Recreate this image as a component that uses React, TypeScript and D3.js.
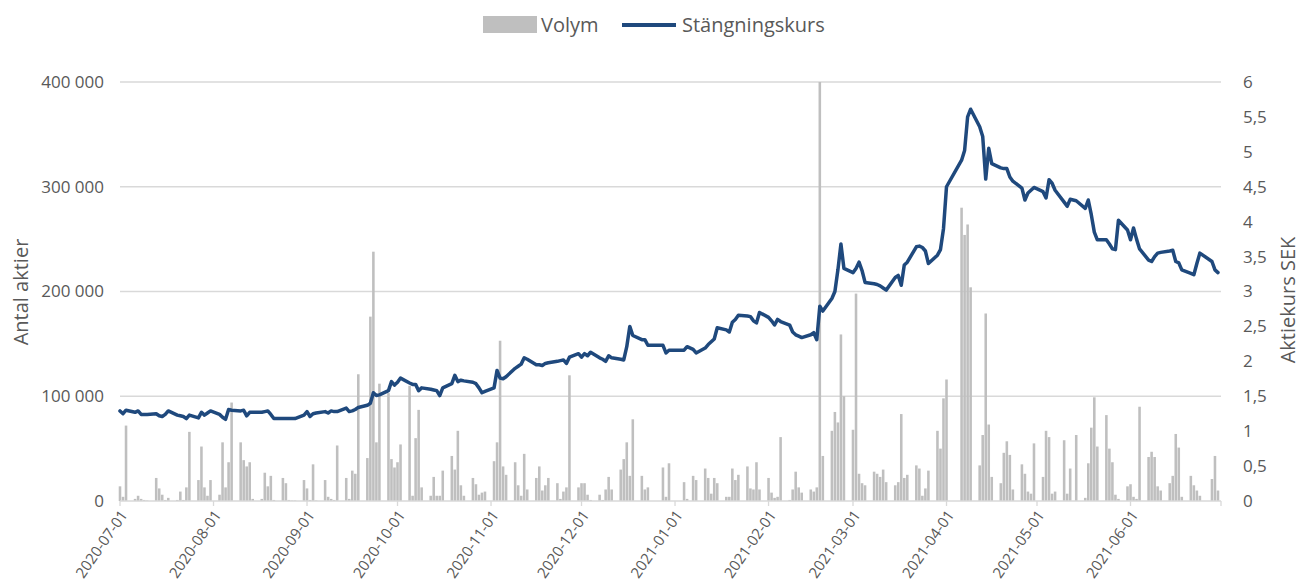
import React, { useEffect, useRef } from "react";
import * as d3 from "d3";

// months shown, one array of trading-day values per month
const months = ["2020-07", "2020-08", "2020-09", "2020-10", "2020-11", "2020-12", "2021-01", "2021-02", "2021-03", "2021-04", "2021-05", "2021-06"];
// exchange closed these weekdays
const holidays = ["2020-12-24", "2020-12-25", "2020-12-31", "2021-01-01", "2021-01-06", "2021-04-02", "2021-04-05", "2021-05-13", "2021-06-25"];

// Volym (antal aktier)
const vol2020_07 = [14000, 4000, 72000, 2000, 5000, 2000, 1000, 500, 22000, 12000, 6000, 1000, 3000, 1000, 9000, 1000, 13000, 66000, 20000, 52000, 13000, 5000, 20000];
const vol2020_08 = [6000, 56000, 13000, 37000, 94000, 56000, 39000, 33000, 37000, 2000, 2000, 27000, 14000, 24000, 1000, 22000, 17000, 1000, 500, 500, 20000];
const vol2020_09 = [12000, 1000, 35000, 500, 20000, 4000, 2000, 1000, 53000, 22000, 2000, 29000, 26000, 121000, 41000, 176000, 238000, 56000, 112000, 103000, 40000, 32000];
const vol2020_10 = [37000, 54000, 110000, 5000, 60000, 87000, 13000, 5000, 23000, 5000, 5000, 29000, 43000, 30000, 67000, 15000, 5000, 22000, 16000, 6000, 8000, 9000];
const vol2020_11 = [38000, 56000, 153000, 33000, 25000, 37000, 15000, 5000, 45000, 11000, 22000, 33000, 10000, 15000, 22000, 17000, 2000, 9000, 13000, 120000, 13000];
const vol2020_12 = [17000, 17000, 6000, 1000, 6000, 1000, 11000, 23000, 11000, 30000, 40000, 56000, 24000, 78000, 24000, 11000, 13000, 32000, 4000, 36000];
const vol2021_01 = [18000, 2000, 24000, 20000, 31000, 22000, 7000, 22000, 17000, 4000, 4000, 31000, 20000, 25000, 33000, 12000, 11000, 37000, 11000];
const vol2021_02 = [22000, 8000, 3000, 4000, 61000, 1000, 11000, 28000, 13000, 8000, 11000, 9000, 13000, 460000, 43000, 67000, 85000, 75000, 159000, 100000];
const vol2021_03 = [68000, 198000, 26000, 17000, 15000, 28000, 26000, 23000, 30000, 18000, 15000, 18000, 83000, 22000, 25000, 34000, 31000, 5000, 12000, 29000, 67000, 50000, 98000];
const vol2021_04 = [116000, 280000, 254000, 264000, 204000, 34000, 63000, 179000, 73000, 23000, 17000, 46000, 57000, 44000, 11000, 35000, 26000, 9000, 7000, 55000];
const vol2021_05 = [23000, 67000, 61000, 7000, 9000, 58000, 7000, 31000, 63000, 3000, 36000, 70000, 99000, 52000, 82000, 50000, 37000, 6000, 2000, 14000];
const vol2021_06 = [16000, 4000, 2000, 90000, 42000, 47000, 42000, 14000, 10000, 17000, 24000, 64000, 51000, 4000, 24000, 15000, 10000, 5000, 21000, 43000, 10000];

// Stängningskurs (SEK)
const price2020_07 = [1.29, 1.25, 1.30, 1.27, 1.29, 1.24, 1.24, 1.24, 1.25, 1.22, 1.21, 1.24, 1.29, 1.23, 1.22, 1.21, 1.18, 1.23, 1.19, 1.27, 1.23, 1.26, 1.29];
const price2020_08 = [1.24, 1.20, 1.17, 1.31, 1.30, 1.29, 1.30, 1.22, 1.27, 1.27, 1.27, 1.28, 1.29, 1.24, 1.18, 1.18, 1.18, 1.18, 1.18, 1.18, 1.23];
const price2020_09 = [1.28, 1.21, 1.25, 1.26, 1.28, 1.26, 1.29, 1.28, 1.28, 1.33, 1.28, 1.29, 1.31, 1.34, 1.37, 1.40, 1.55, 1.51, 1.52, 1.58, 1.71, 1.66];
const price2020_10 = [1.70, 1.76, 1.69, 1.67, 1.67, 1.58, 1.62, 1.60, 1.59, 1.58, 1.51, 1.62, 1.68, 1.80, 1.71, 1.73, 1.72, 1.70, 1.68, 1.62, 1.55, 1.57];
const price2020_11 = [1.62, 1.87, 1.76, 1.75, 1.78, 1.90, 1.93, 1.96, 2.05, 2.03, 1.95, 1.95, 1.94, 1.97, 1.98, 2.00, 2.01, 2.02, 1.97, 2.06, 2.11];
const price2020_12 = [2.06, 2.11, 2.08, 2.13, 2.05, 2.03, 2.00, 2.08, 2.05, 2.03, 2.02, 2.21, 2.50, 2.37, 2.31, 2.31, 2.23, 2.23, 2.12, 2.16];
const price2021_01 = [2.16, 2.21, 2.17, 2.12, 2.19, 2.24, 2.28, 2.32, 2.48, 2.45, 2.42, 2.56, 2.60, 2.66, 2.65, 2.64, 2.58, 2.55, 2.70];
const price2021_02 = [2.63, 2.58, 2.52, 2.60, 2.57, 2.52, 2.42, 2.38, 2.36, 2.34, 2.38, 2.41, 2.31, 2.79, 2.72, 2.90, 3.00, 3.31, 3.68, 3.33];
const price2021_03 = [3.27, 3.33, 3.42, 3.30, 3.13, 3.11, 3.10, 3.08, 3.05, 3.02, 3.20, 3.23, 3.09, 3.38, 3.42, 3.64, 3.65, 3.63, 3.58, 3.40, 3.52, 3.60, 3.90];
const price2021_04 = [4.50, 4.88, 5.02, 5.50, 5.61, 5.36, 5.22, 4.61, 5.05, 4.83, 4.77, 4.76, 4.76, 4.64, 4.58, 4.48, 4.31, 4.41, 4.45, 4.49];
const price2021_05 = [4.43, 4.34, 4.60, 4.55, 4.45, 4.28, 4.22, 4.32, 4.30, 4.19, 4.31, 4.10, 3.85, 3.74, 3.74, 3.68, 3.61, 3.60, 4.02, 3.88];
const price2021_06 = [3.74, 3.91, 3.75, 3.61, 3.45, 3.43, 3.50, 3.55, 3.56, 3.58, 3.59, 3.43, 3.41, 3.31, 3.26, 3.24, 3.40, 3.55, 3.43, 3.31, 3.27];

const volumes = [vol2020_07, vol2020_08, vol2020_09, vol2020_10, vol2020_11, vol2020_12, vol2021_01, vol2021_02, vol2021_03, vol2021_04, vol2021_05, vol2021_06];
const prices = [price2020_07, price2020_08, price2020_09, price2020_10, price2020_11, price2020_12, price2021_01, price2021_02, price2021_03, price2021_04, price2021_05, price2021_06];

const volumeTicks = [0, 100000, 200000, 300000, 400000];
const priceTicks = [0, 0.5, 1, 1.5, 2, 2.5, 3, 3.5, 4, 4.5, 5, 5.5, 6];

const FONT = "'Open Sans', 'Noto Sans', sans-serif";
const TEXT = "#595959";
const GRID = "#d9d9d9";
const BAR = "#bfbfbf";
const LINE = "#1f497d";

const parse = d3.utcParse("%Y-%m-%d");
const fmtDay = d3.utcFormat("%Y-%m-%d");

// trading days of a month: weekdays that are not holidays
function tradingDays(month: string) {
  const start = parse(month + "-01") as Date;
  return d3.utcDay
    .range(start, d3.utcMonth.offset(start, 1))
    .filter((d) => d.getUTCDay() !== 0 && d.getUTCDay() !== 6 && !holidays.includes(fmtDay(d)));
}

type Row = { date: Date; volume: number; price: number };

function buildRows(): Row[] {
  const rows: Row[] = [];
  months.forEach((m, i) => {
    const days = tradingDays(m);
    const n = Math.min(days.length, volumes[i].length, prices[i].length);
    for (let k = 0; k < n; k++) rows.push({ date: days[k], volume: volumes[i][k], price: prices[i][k] });
  });
  return rows;
}

export default function App() {
  const ref = useRef<SVGSVGElement>(null);

  useEffect(() => {
    const left = 120;
    const right = 1221;
    const top = 82;
    const bottom = 501;

    const rows = buildRows();
    const svg = d3.select(ref.current);
    svg.selectAll("*").remove();

    const x = d3
      .scaleUtc()
      .domain([parse("2020-07-01") as Date, parse("2021-07-01") as Date])
      .range([left, right]);
    const yVol = d3.scaleLinear().domain([0, 400000]).range([bottom, top]).clamp(true);
    const yPrice = d3.scaleLinear().domain([0, 6]).range([bottom, top]);

    // gridlines
    svg
      .append("g")
      .selectAll("line")
      .data(volumeTicks.filter((v) => v > 0))
      .enter()
      .append("line")
      .attr("x1", left)
      .attr("x2", right)
      .attr("y1", (d) => yVol(d))
      .attr("y2", (d) => yVol(d))
      .attr("stroke", GRID)
      .attr("stroke-width", 1.3);

    // volume bars
    const dayW = x(parse("2020-07-02") as Date) - x(parse("2020-07-01") as Date);
    const bw = dayW * 0.85;
    svg
      .append("g")
      .selectAll("rect")
      .data(rows)
      .enter()
      .append("rect")
      .attr("x", (d) => x(d.date) - bw / 2)
      .attr("width", bw)
      .attr("y", (d) => yVol(d.volume))
      .attr("height", (d) => bottom - yVol(d.volume))
      .attr("fill", BAR);

    // x axis line + month ticks
    svg
      .append("line")
      .attr("x1", left)
      .attr("x2", right)
      .attr("y1", bottom)
      .attr("y2", bottom)
      .attr("stroke", GRID)
      .attr("stroke-width", 1.3);

    const monthTicks = d3.utcMonth.range(parse("2020-07-01") as Date, parse("2021-07-02") as Date);
    svg
      .append("g")
      .selectAll("line")
      .data(monthTicks)
      .enter()
      .append("line")
      .attr("x1", (d) => x(d))
      .attr("x2", (d) => x(d))
      .attr("y1", bottom)
      .attr("y2", bottom + 5)
      .attr("stroke", GRID)
      .attr("stroke-width", 1.3);

    svg
      .append("g")
      .selectAll("text")
      .data(monthTicks.slice(0, 12))
      .enter()
      .append("text")
      .attr("transform", (d) => `translate(${x(d) + 4},${bottom + 11}) rotate(-55)`)
      .attr("text-anchor", "end")
      .attr("dy", "0.35em")
      .attr("font-family", FONT)
      .attr("font-size", 15)
      .attr("fill", TEXT)
      .text((d) => fmtDay(d));

    // price line
    const line = d3
      .line<Row>()
      .x((d) => x(d.date))
      .y((d) => yPrice(d.price));
    svg
      .append("path")
      .datum(rows)
      .attr("d", line)
      .attr("fill", "none")
      .attr("stroke", LINE)
      .attr("stroke-width", 3.5)
      .attr("stroke-linejoin", "round")
      .attr("stroke-linecap", "round");

    // left axis labels
    svg
      .append("g")
      .selectAll("text")
      .data(volumeTicks)
      .enter()
      .append("text")
      .attr("x", 104)
      .attr("y", (d) => yVol(d))
      .attr("dy", "0.35em")
      .attr("text-anchor", "end")
      .attr("font-family", FONT)
      .attr("font-size", 17)
      .attr("fill", TEXT)
      .text((d) => d3.format(",")(d).replace(/,/g, " "));

    // right axis labels
    svg
      .append("g")
      .selectAll("text")
      .data(priceTicks)
      .enter()
      .append("text")
      .attr("x", 1243)
      .attr("y", (d) => yPrice(d))
      .attr("dy", "0.35em")
      .attr("text-anchor", "start")
      .attr("font-family", FONT)
      .attr("font-size", 17)
      .attr("fill", TEXT)
      .text((d) => String(d).replace(".", ","));

    // axis titles
    svg
      .append("text")
      .attr("transform", "translate(28,292) rotate(-90)")
      .attr("text-anchor", "middle")
      .attr("font-family", FONT)
      .attr("font-size", 20)
      .attr("fill", TEXT)
      .text("Antal aktier");
    svg
      .append("text")
      .attr("transform", "translate(1295,300) rotate(-90)")
      .attr("text-anchor", "middle")
      .attr("font-family", FONT)
      .attr("font-size", 20)
      .attr("fill", TEXT)
      .text("Aktiekurs SEK");

    // legend
    const lg = svg.append("g");
    lg.append("rect").attr("x", 483).attr("y", 16).attr("width", 54).attr("height", 17).attr("fill", BAR);
    lg.append("text")
      .attr("x", 541)
      .attr("y", 25)
      .attr("dy", "0.35em")
      .attr("font-family", FONT)
      .attr("font-size", 20)
      .attr("fill", TEXT)
      .text("Volym");
    lg.append("line")
      .attr("x1", 622)
      .attr("x2", 676)
      .attr("y1", 25)
      .attr("y2", 25)
      .attr("stroke", LINE)
      .attr("stroke-width", 4);
    lg.append("text")
      .attr("x", 682)
      .attr("y", 25)
      .attr("dy", "0.35em")
      .attr("font-family", FONT)
      .attr("font-size", 20)
      .attr("fill", TEXT)
      .text("Stängningskurs");
  }, []);

  return (
    <svg
      ref={ref}
      width={1303}
      height={586}
      style={{ position: "absolute", left: 0, top: 0, background: "#fff" }}
    />
  );
}
